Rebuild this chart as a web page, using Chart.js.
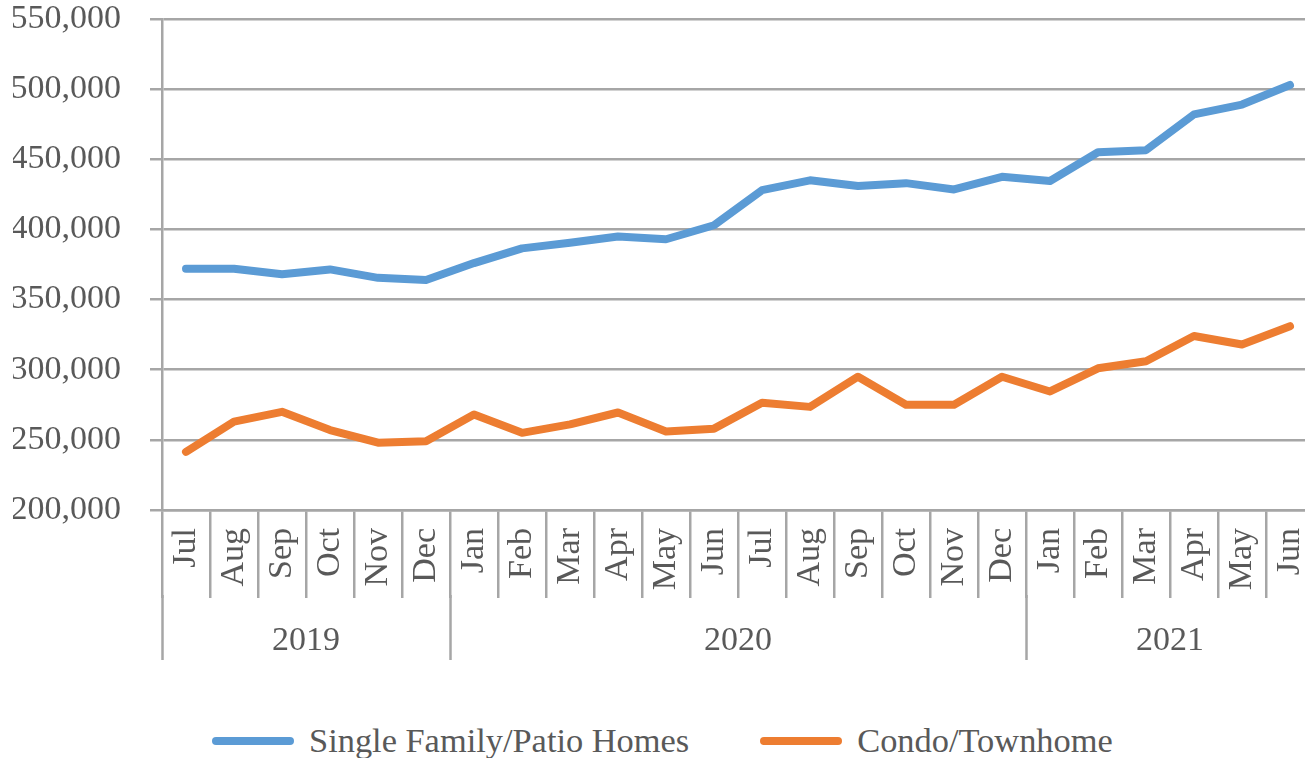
<!DOCTYPE html>
<html>
<head>
<meta charset="utf-8">
<script src="https://cdn.jsdelivr.net/npm/chart.js@4"></script>
<style>
  body { margin: 0; background: #fff; overflow: hidden; width: 1305px; height: 758px; position: relative; }
  #wrap { position: absolute; left: 0; top: 0; width: 1330px; height: 690px; }
  #legend { position: absolute; left: 212px; top: 721px; display: flex; align-items: center;
            font-family: "Liberation Serif", "Times New Roman", serif; font-size: 34.4px; color: #595959; white-space: nowrap; }
  .item { display: flex; align-items: center; margin-right: 71px; }
  .swatch { width: 82px; height: 8px; border-radius: 4px; margin-right: 15px; }
</style>
</head>
<body>
<div id="wrap"><canvas id="chart" width="1330" height="690"></canvas></div>
<div id="legend"></div>
<script>
// months, Jul 2019 - Jun 2021
const months = ['Jul', 'Aug', 'Sep', 'Oct', 'Nov', 'Dec',
  'Jan', 'Feb', 'Mar', 'Apr', 'May', 'Jun', 'Jul', 'Aug', 'Sep', 'Oct', 'Nov', 'Dec',
  'Jan', 'Feb', 'Mar', 'Apr', 'May', 'Jun'];
const years = ['2019', '2020', '2021'];
const yearSpans = [6, 12, 6]; // months in each year group

const singleFamily = [372000, 372000, 368000, 371500, 365500, 364000,
  376000, 386500, 390500, 395000, 393000, 403000, 428000, 435000, 431000, 433000, 428500, 437500,
  434500, 455000, 456500, 482000, 489000, 503000];
const condo = [241500, 263000, 270000, 257000, 248000, 249000,
  268000, 255000, 261000, 269500, 256000, 258000, 276500, 273500, 295000, 275000, 275000, 295000,
  284500, 301000, 306000, 324000, 318000, 331000];

const gridColor = '#a6a6a6';
const textColor = '#595959';

// year group edges and middles, counted in months
let bounds = [0];
let mids = [];
yearSpans.forEach(n => {
  let start = bounds[bounds.length - 1];
  mids.push(start + n / 2);
  bounds.push(start + n);
});

Chart.defaults.font.family = "'Liberation Serif', 'Times New Roman', serif";
Chart.defaults.color = textColor;

const ctx = document.getElementById('chart').getContext('2d');
const chart = new Chart(ctx, {
  type: 'line',
  data: {
    labels: months,
    datasets: [{
      label: 'Single Family/Patio Homes',
      data: singleFamily,
      borderColor: '#5b9bd5',
      backgroundColor: '#5b9bd5',
      borderWidth: 8,
      pointRadius: 0,
      tension: 0,
      borderCapStyle: 'round',
      borderJoinStyle: 'round'
    }, {
      label: 'Condo/Townhome',
      data: condo,
      borderColor: '#ed7d31',
      backgroundColor: '#ed7d31',
      borderWidth: 8,
      pointRadius: 0,
      tension: 0,
      borderCapStyle: 'round',
      borderJoinStyle: 'round'
    }]
  },
  options: {
    responsive: false,
    animation: false,
    layout: { padding: { left: 13, top: 0, right: 16, bottom: 26 } },
    plugins: {
      legend: { display: false },
      tooltip: { enabled: false }
    },
    scales: {
      x: {
        type: 'category',
        offset: true,
        afterFit: axis => { axis.height = 85; },
        grid: { offset: true, drawOnChartArea: false, tickLength: 88, tickWidth: 2.5, tickColor: gridColor, color: gridColor, lineWidth: 2.5 },
        border: { display: true, color: gridColor, width: 2.5 },
        ticks: { minRotation: 90, maxRotation: 90, autoSkip: false, padding: -70, font: { size: 34 }, color: textColor }
      },
      years: {
        type: 'linear',
        position: 'bottom',
        min: 0,
        max: 24,
        afterBuildTicks: axis => {
          axis.ticks = bounds.concat(mids).sort((a, b) => a - b).map(v => ({ value: v }));
        },
        afterFit: axis => { axis.height = 69; },
        grid: {
          drawOnChartArea: false,
          tickLength: 65,
          tickWidth: 2.5,
          tickColor: c => (c.tick && bounds.includes(c.tick.value)) ? gridColor : 'rgba(0,0,0,0)'
        },
        border: { display: false },
        ticks: {
          autoSkip: false,
          maxRotation: 0,
          padding: -39,
          font: { size: 34 },
          color: textColor,
          callback: v => {
            let i = mids.indexOf(v);
            return i >= 0 ? years[i] : '';
          }
        }
      },
      y: {
        min: 200000,
        max: 550000,
        afterFit: axis => {
          axis.width = 149;
          axis.paddingTop = 19;
          axis.paddingBottom = 19;
        },
        ticks: {
          stepSize: 50000,
          padding: 29,
          font: { size: 34 },
          color: textColor,
          callback: v => v.toLocaleString('en-US')
        },
        grid: { color: gridColor, lineWidth: 2.5, tickLength: 12 },
        border: { color: gridColor, width: 2.5 }
      }
    }
  }
});

// legend as html under the canvas
const legendEl = document.getElementById('legend');
chart.data.datasets.forEach(ds => {
  let item = document.createElement('div');
  item.className = 'item';
  let sw = document.createElement('span');
  sw.className = 'swatch';
  sw.style.background = ds.borderColor;
  let txt = document.createElement('span');
  txt.textContent = ds.label;
  item.appendChild(sw);
  item.appendChild(txt);
  legendEl.appendChild(item);
});
</script>
</body>
</html>
